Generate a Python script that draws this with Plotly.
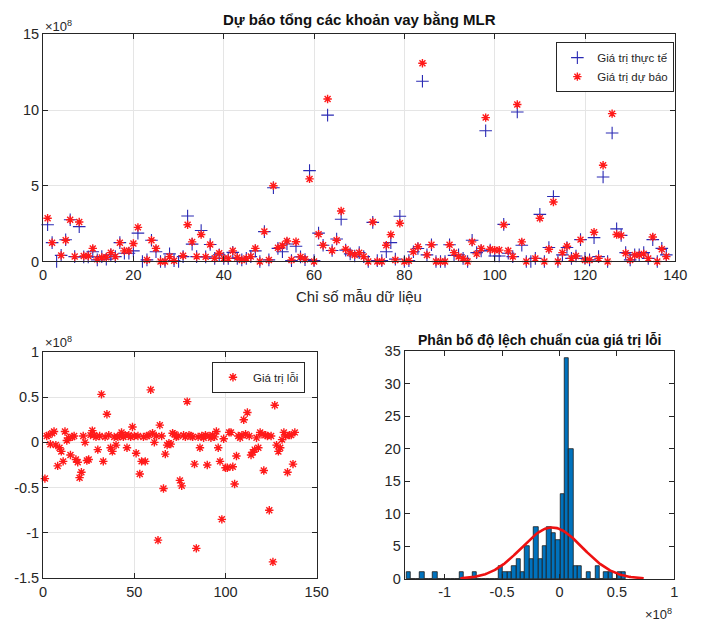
import numpy as np
import plotly.graph_objects as go

# ---------------- data (values in units of 1e8) ----------------
sample_index = list(range(1, 139))

actual = [2.42, 1.24, 0.00, 0.40, 1.43, 2.75, 0.32, 2.30, 0.30, 0.30,
          0.64, 0.10, 0.32, 0.15, 0.43, 0.32, 1.24, 0.54, 0.54, 0.70,
          1.87, 0.00, 0.10, 1.40, 0.64, 0.00, 0.00, 0.50, 0.05, 0.00,
          0.32, 3.00, 1.14, 0.32, 2.04, 0.30, 1.12, 0.20, 0.43, 0.20,
          0.20, 0.60, 0.20, 0.10, 0.20, 0.32, 0.70, 0.00, 1.97, 0.10,
          4.87, 0.86, 0.64, 1.15, 0.05, 1.00, 0.30, 0.12, 6.00, 0.05,
          1.87, 1.07, 9.66, 0.72, 1.48, 2.79, 0.75, 0.50, 0.36, 0.58,
          0.32, 0.00, 2.58, 0.05, 0.05, 0.64, 1.24, 0.15, 2.98, 0.00,
          0.05, 0.64, 0.85, 11.90, 0.43, 1.10, 0.00, 0.00, 0.00, 1.10,
          0.40, 0.43, 0.20, 0.00, 1.40, 0.58, 0.70, 8.63, 0.75, 0.36,
          0.36, 2.45, 0.54, 0.32, 9.87, 1.07, 0.00, 0.00, 0.20, 3.11,
          0.00, 0.92, 4.29, 0.00, 0.43, 0.92, 0.20, 0.36, 1.44, 0.20,
          0.10, 1.57, 0.32, 5.58, 0.00, 8.48, 2.15, 1.72, 0.58, 0.10,
          0.43, 0.43, 0.58, 0.20, 1.44, 0.00, 0.86, 0.43]

predicted = [2.85, 1.24, -0.05, 0.40, 1.40, 2.75, 0.32, 2.60, 0.36, 0.36,
             0.86, 0.15, 0.26, 0.28, 0.58, 0.32, 1.24, 0.70, 0.70, 1.18,
             2.25, -0.05, 0.10, 1.40, 0.86, 0.00, 0.00, 0.32, 0.05, -0.05,
             0.38, 2.42, 1.29, 0.32, 1.78, 0.30, 1.12, 0.21, 0.54, 0.20,
             0.20, 0.70, 0.26, 0.10, 0.20, 0.32, 0.86, 0.00, 1.97, 0.10,
             5.00, 0.90, 1.05, 1.35, 0.10, 1.30, 0.30, 0.15, 5.45, 0.00,
             1.80, 1.07, 10.73, 0.72, 1.40, 3.33, 0.80, 0.55, 0.43, 0.58,
             0.32, 0.00, 2.60, 0.00, 0.00, 1.07, 1.77, 0.10, 2.52, 0.00,
             0.05, 0.64, 0.97, 13.09, 0.43, 1.10, 0.00, 0.00, 0.00, 1.10,
             0.58, 0.32, 0.20, 0.00, 1.29, 0.50, 0.86, 9.50, 0.80, 0.75,
             0.75, 2.42, 0.70, 0.32, 10.36, 1.29, 0.00, -0.05, 0.20, 2.85,
             0.00, 0.80, 3.93, 0.00, 0.58, 1.00, 0.20, 0.36, 1.44, 0.10,
             0.10, 1.93, 0.20, 6.35, 0.00, 9.76, 1.78, 1.72, 0.54, 0.10,
             0.43, 0.43, 0.50, 0.20, 1.61, 0.00, 0.80, 0.32]

error = [-0.40, 0.07, 0.08, -0.02, 0.10, 0.12, -0.03, -0.26, -0.06, -0.10,
         -0.21, 0.12, 0.02, 0.05, -0.14, 0.06, 0.07, -0.19, -0.22, -0.39,
         -0.33, 0.07, 0.00, -0.20, -0.19, 0.08, 0.13, 0.08, 0.06, -0.08,
         0.07, 0.53, -0.21, 0.06, 0.31, 0.08, -0.06, -0.10, 0.06, -0.03,
         0.06, 0.07, 0.11, 0.06, 0.08, -0.06, 0.08, 0.06, 0.17, 0.07,
         -0.12, 0.07, -0.35, -0.21, 0.06, -0.21, 0.07, 0.08, 0.58, 0.10,
         0.00, 0.07, -1.08, 0.19, 0.07, -0.51, -0.13, -0.03, -0.01, -0.02,
         0.10, 0.09, 0.06, 0.07, -0.42, -0.48, 0.08, 0.06, 0.45, 0.08,
         0.07, 0.06, -0.24, -1.17, 0.06, -0.06, 0.07, 0.05, 0.08, -0.25,
         0.07, 0.05, 0.08, 0.06, 0.12, -0.06, -0.21, -0.85, 0.04, -0.28,
         -0.28, 0.11, 0.11, -0.27, -0.46, -0.15, 0.07, 0.05, 0.08, 0.25,
         0.09, 0.33, 0.07, -0.14, -0.11, -0.08, 0.05, -0.06, 0.11, 0.09,
         -0.31, 0.08, 0.07, -0.75, 0.07, -1.32, 0.41, -0.03, -0.10, -0.06,
         0.03, 0.11, 0.07, -0.33, 0.08, 0.08, -0.24, 0.11]

# histogram (50 bins)
hist_first_edge = -1.331
hist_bin_width = 0.0382
hist_counts = [1, 0, 0, 1, 0, 0, 1, 0, 0, 0,
               0, 0, 1, 0, 0, 1, 0, 0, 0, 0,
               0, 2, 1, 1, 2, 3, 1, 5, 3, 8,
               3, 5, 8, 7, 6, 13, 34, 20, 2, 2,
               0, 1, 0, 2, 0, 1, 1, 0, 1, 1]
# fitted normal distribution (histfit)
fit_mu = -0.065
fit_sigma = 0.266
n_samples = 138

hist_centers = [hist_first_edge + hist_bin_width * (k + 0.5) for k in range(len(hist_counts))]
xs = np.linspace(fit_mu - 3 * fit_sigma, fit_mu + 3 * fit_sigma, 200)
pdf = n_samples * hist_bin_width * np.exp(-0.5 * ((xs - fit_mu) / fit_sigma) ** 2) / (fit_sigma * np.sqrt(2 * np.pi))

# ---------------- figure ----------------
W, H = 702, 633
FONT = "Liberation Sans, Arial, Helvetica, sans-serif"
AX = "#262626"
GRID = "#e5e5e5"
BLUE = "#2a2ab4"
RED = "#ff1a1a"

def px(x):
    return x / W

def py(y):
    return 1 - y / H

fig = go.Figure()

fig.add_trace(go.Scatter(x=sample_index, y=actual, mode="markers", name="Giá trị thực tế",
                         marker=dict(symbol="cross-thin-open", size=9, color=BLUE,
                                     line=dict(color=BLUE, width=1.1)),
                         cliponaxis=False, xaxis="x", yaxis="y", legend="legend"))
fig.add_trace(go.Scatter(x=sample_index, y=predicted, mode="markers", name="Giá trị dự báo",
                         marker=dict(symbol="asterisk-open", size=7, color=RED,
                                     line=dict(color=RED, width=1.4)),
                         cliponaxis=False, xaxis="x", yaxis="y", legend="legend"))

fig.add_trace(go.Scatter(x=sample_index, y=error, mode="markers", name="Giá trị lỗi",
                         marker=dict(symbol="asterisk-open", size=7, color=RED,
                                     line=dict(color=RED, width=1.4)),
                         cliponaxis=False, xaxis="x2", yaxis="y2", legend="legend2"))

fig.add_trace(go.Bar(x=hist_centers, y=hist_counts, width=hist_bin_width,
                     marker=dict(color="#0072BD", line=dict(color="#1a1a1a", width=0.8)),
                     showlegend=False, xaxis="x3", yaxis="y3"))
fig.add_trace(go.Scatter(x=xs, y=pdf, mode="lines", line=dict(color="#ee1111", width=2.6),
                         showlegend=False, xaxis="x3", yaxis="y3"))

axis_common = dict(showline=True, linecolor=AX, linewidth=1, mirror="ticks",
                   ticks="inside", ticklen=5, tickcolor=AX, zeroline=False,
                   tickfont=dict(family=FONT, size=14.5, color=AX))

fig.update_layout(
    width=W, height=H, margin=dict(l=0, r=0, t=0, b=0),
    paper_bgcolor="white", plot_bgcolor="white",
    font=dict(family=FONT, color=AX),
    xaxis=dict(domain=[px(40), px(687)], range=[0, 140], tickvals=[0, 20, 40, 60, 80, 100, 120, 140],
               showgrid=True, gridcolor=GRID, anchor="y", **axis_common),
    yaxis=dict(domain=[py(260), py(27)], range=[0, 15], tickvals=[0, 5, 10, 15],
               showgrid=True, gridcolor=GRID, anchor="x", **axis_common),
    xaxis2=dict(domain=[px(40), px(320)], range=[0, 150], tickvals=[0, 50, 100, 150],
                showgrid=True, gridcolor=GRID, anchor="y2", **axis_common),
    yaxis2=dict(domain=[py(585), py(352.7)], range=[-1.5, 1], tickvals=[-1.5, -1, -0.5, 0, 0.5, 1],
                ticktext=["-1.5", "-1", "-0.5", "0", "0.5", "1"],
                showgrid=True, gridcolor=GRID, anchor="x2", **axis_common),
    xaxis3=dict(domain=[px(410), px(686)], range=[-1.348, 1.0], tickvals=[-1, -0.5, 0, 0.5, 1],
                ticktext=["-1", "-0.5", "0", "0.5", "1"],
                showgrid=False, anchor="y3", **axis_common),
    yaxis3=dict(domain=[py(585.7), py(352)], range=[0, 35], tickvals=[0, 5, 10, 15, 20, 25, 30, 35],
                showgrid=False, anchor="x3", **axis_common),
    bargap=0,
    legend=dict(x=px(686), y=py(35), xanchor="right", yanchor="top",
                bgcolor="white", bordercolor=AX, borderwidth=1,
                font=dict(family=FONT, size=11.5, color=AX), tracegroupgap=0, itemwidth=30),
    legend2=dict(x=px(308), y=py(363), xanchor="right", yanchor="top",
                 bgcolor="white", bordercolor=AX, borderwidth=1,
                 font=dict(family=FONT, size=11.5, color=AX), itemwidth=30),
    annotations=[
        dict(text="<b>Dự báo tổng các khoản vay bằng MLR</b>", x=px(363.5), y=py(12),
             xref="paper", yref="paper", showarrow=False, xanchor="center", yanchor="middle",
             font=dict(family=FONT, size=15, color="#111111")),
        dict(text="Chỉ số mẫu dữ liệu", x=px(363.5), y=py(296),
             xref="paper", yref="paper", showarrow=False, xanchor="center", yanchor="middle",
             font=dict(family=FONT, size=15, color=AX)),
        dict(text="×10<sup>8</sup>", x=px(40), y=py(18),
             xref="paper", yref="paper", showarrow=False, xanchor="left", yanchor="middle",
             font=dict(family=FONT, size=13, color=AX)),
        dict(text="×10<sup>8</sup>", x=px(40), y=py(343),
             xref="paper", yref="paper", showarrow=False, xanchor="left", yanchor="middle",
             font=dict(family=FONT, size=13, color=AX)),
        dict(text="<b>Phân bố độ lệch chuẩn của giá trị lỗi</b>", x=px(548), y=py(341),
             xref="paper", yref="paper", showarrow=False, xanchor="center", yanchor="middle",
             font=dict(family=FONT, size=14, color="#111111")),
        dict(text="×10<sup>8</sup>", x=px(686), y=py(622),
             xref="paper", yref="paper", showarrow=False, xanchor="right", yanchor="middle",
             font=dict(family=FONT, size=13, color=AX)),
    ],
)

fig.write_html("out.html")
